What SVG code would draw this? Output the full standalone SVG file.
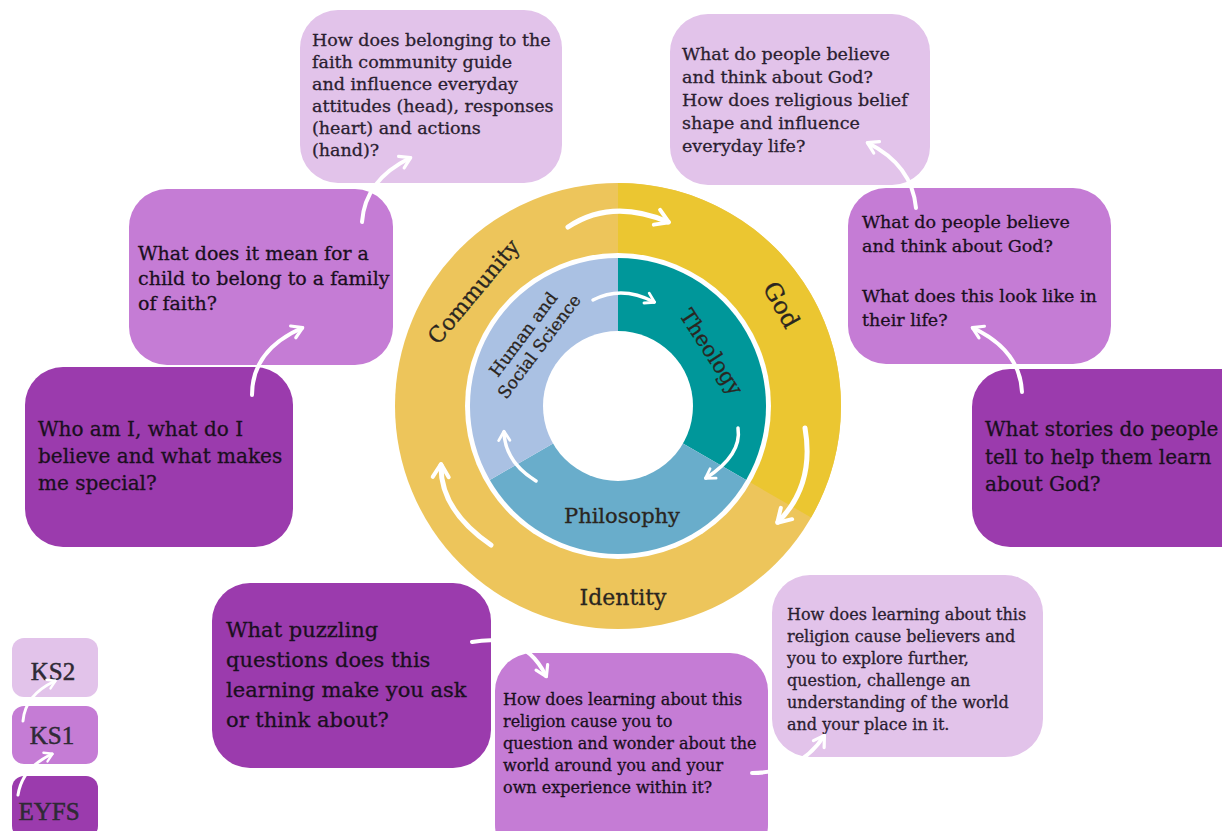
<svg xmlns="http://www.w3.org/2000/svg" width="1222" height="831" viewBox="0 0 1222 831">
<style>
.ks2{fill:#E2C3EA}
.ks1{fill:#C57CD5}
.eyfs{fill:#9B3BAD}
.t{font-family:"DejaVu Serif","Liberation Serif",serif;fill:#2a2030;stroke:#2a2030;stroke-width:0.3}
.td{font-family:"DejaVu Serif","Liberation Serif",serif;fill:#1a0f1e;stroke:#1a0f1e;stroke-width:0.3}
.lg{font-family:"Liberation Serif","DejaVu Serif",serif;fill:#2f2a35;stroke:#2f2a35;stroke-width:0.5;font-size:25px;text-anchor:middle}
.wl{font-family:"DejaVu Serif","Liberation Serif",serif;fill:#2a2520;stroke:#2a2520;stroke-width:0.3}
.arr{fill:none;stroke:#fff;stroke-linecap:round;marker-end:url(#ah)}
</style>
<defs>
<marker id="ah" viewBox="0 0 10 10" refX="7.5" refY="5" markerWidth="4" markerHeight="4" markerUnits="strokeWidth" orient="auto" overflow="visible">
<path d="M1.5,1 L8,5 L1.5,9" fill="none" stroke="#fff" stroke-width="2" stroke-linecap="round" stroke-linejoin="round"/>
</marker>
</defs>
<rect width="1222" height="831" fill="#fff"/>

<g id="wheel">
<circle cx="618" cy="406" r="223" fill="#EDC55B"/>
<path d="M618 406 L618 183 A223 223 0 0 1 811.1 517.5 Z" fill="#EBC631"/>
<circle cx="618" cy="406" r="153" fill="#fff"/>
<path d="M618 406 L618 258 A148 148 0 0 1 746.2 480 Z" fill="#00979A"/>
<path d="M618 406 L746.2 480 A148 148 0 0 1 489.8 480 Z" fill="#69ADCB"/>
<path d="M618 406 L489.8 480 A148 148 0 0 1 618 258 Z" fill="#AAC1E3"/>
<circle cx="618" cy="406" r="75" fill="#fff"/>
<text class="wl" font-size="22" text-anchor="middle" transform="translate(474 292) rotate(-50)" y="7">Community</text>
<text class="wl" font-size="24" text-anchor="middle" transform="translate(781 305) rotate(61)" y="8">God</text>
<text class="wl" font-size="22" text-anchor="middle" x="623" y="605">Identity</text>
<text class="wl" font-size="21" text-anchor="middle" x="622" y="523">Philosophy</text>
<text class="wl" font-size="21" text-anchor="middle" transform="translate(711 352) rotate(57)" y="7">Theology</text>
<g transform="translate(532 341) rotate(-53)">
<text class="wl" font-size="17" text-anchor="middle" y="-5">Human and</text>
<text class="wl" font-size="17" text-anchor="middle" y="15">Social Science</text>
</g>
</g>

<g id="n_ks2_community">
<rect class="ks2" x="300" y="10" width="262" height="173" rx="38"/>
<text class="t" font-size="17.5"><tspan x="312" y="46">How does belonging to the</tspan><tspan x="312" y="68">faith community guide</tspan><tspan x="312" y="90">and influence everyday</tspan><tspan x="312" y="112">attitudes (head), responses</tspan><tspan x="312" y="134">(heart) and actions</tspan><tspan x="312" y="156">(hand)?</tspan></text>
</g>
<g id="n_ks2_god">
<rect class="ks2" x="670" y="14" width="260" height="171" rx="38"/>
<text class="t" font-size="17.5"><tspan x="682" y="60">What do people believe</tspan><tspan x="682" y="83">and think about God?</tspan><tspan x="682" y="106">How does religious belief</tspan><tspan x="682" y="129">shape and influence</tspan><tspan x="682" y="152">everyday life?</tspan></text>
</g>
<g id="n_ks1_community">
<rect class="ks1" x="129" y="189" width="264" height="176" rx="38"/>
<text class="td" font-size="19"><tspan x="138" y="260">What does it mean for a</tspan><tspan x="138" y="285">child to belong to a family</tspan><tspan x="138" y="310">of faith?</tspan></text>
</g>
<g id="n_ks1_god">
<rect class="ks1" x="848" y="188" width="263" height="176" rx="38"/>
<text class="td" font-size="17.5"><tspan x="862" y="228">What do people believe</tspan><tspan x="862" y="252">and think about God?</tspan><tspan x="862" y="302">What does this look like in</tspan><tspan x="862" y="326">their life?</tspan></text>
</g>
<g id="n_eyfs_community">
<rect class="eyfs" x="25" y="367" width="268" height="180" rx="38"/>
<text class="td" font-size="20"><tspan x="38" y="436">Who am I, what do I</tspan><tspan x="38" y="463">believe and what makes</tspan><tspan x="38" y="490">me special?</tspan></text>
</g>
<g id="n_eyfs_god">
<rect class="eyfs" x="972" y="369" width="290" height="178" rx="38"/>
<text class="td" font-size="20"><tspan x="985" y="436">What stories do people</tspan><tspan x="985" y="464">tell to help them learn</tspan><tspan x="985" y="491">about God?</tspan></text>
</g>
<g id="n_eyfs_identity">
<rect class="eyfs" x="212" y="583" width="279" height="185" rx="38"/>
<text class="td" font-size="21"><tspan x="226" y="637">What puzzling</tspan><tspan x="226" y="667">questions does this</tspan><tspan x="226" y="697">learning make you ask</tspan><tspan x="226" y="727">or think about?</tspan></text>
</g>
<g id="n_ks1_identity">
<rect class="ks1" x="495" y="653" width="273" height="210" rx="38"/>
<text class="td" font-size="16"><tspan x="503" y="705">How does learning about this</tspan><tspan x="503" y="727">religion cause you to</tspan><tspan x="503" y="749">question and wonder about the</tspan><tspan x="503" y="771">world around you and your</tspan><tspan x="503" y="793">own experience within it?</tspan></text>
</g>
<g id="n_ks2_identity">
<rect class="ks2" x="772" y="575" width="271" height="182" rx="38"/>
<text class="t" font-size="16"><tspan x="787" y="620">How does learning about this</tspan><tspan x="787" y="642">religion cause believers and</tspan><tspan x="787" y="664">you to explore further,</tspan><tspan x="787" y="686">question, challenge an</tspan><tspan x="787" y="708">understanding of the world</tspan><tspan x="787" y="730">and your place in it.</tspan></text>
</g>

<g id="legend_ks2">
<rect class="ks2" x="12" y="638" width="86" height="59" rx="12"/>
<text class="lg" x="53" y="680">KS2</text>
</g>
<g id="legend_ks1">
<rect class="ks1" x="12" y="706" width="86" height="58" rx="12"/>
<text class="lg" x="52" y="744">KS1</text>
</g>
<g id="legend_eyfs">
<rect class="eyfs" x="12" y="776" width="86" height="62" rx="12"/>
<text class="lg" x="49" y="820">EYFS</text>
</g>

<g id="connectors">
<path class="arr" stroke-width="4" d="M252 395 Q252 350 302 328"/>
<path class="arr" stroke-width="4" d="M362 222 Q365 180 410 158"/>
<path class="arr" stroke-width="4" d="M916 208 Q912 165 868 143"/>
<path class="arr" stroke-width="4" d="M1022 392 Q1020 350 973 328"/>
<path class="arr" stroke-width="4" d="M472 642 Q525 632 546 676"/>
<path class="arr" stroke-width="4" d="M752 773 Q800 773 824 736"/>
<path class="arr" stroke-width="3" d="M23 721 Q25 695 55 681"/>
<path class="arr" stroke-width="3" d="M18 795 Q22 768 52 754"/>
<path class="arr" stroke-width="5" d="M568 227 Q612 198 668 222"/>
<path class="arr" stroke-width="5" d="M805 428 Q815 485 778 522"/>
<path class="arr" stroke-width="5" d="M491 545 Q440 510 441 465"/>
<path class="arr" stroke-width="3.5" d="M593 300 Q622 285 654 302"/>
<path class="arr" stroke-width="3.5" d="M738 428 Q742 455 706 478"/>
<path class="arr" stroke-width="3.5" d="M536 481 Q505 462 504 432"/>
</g>
</svg>
